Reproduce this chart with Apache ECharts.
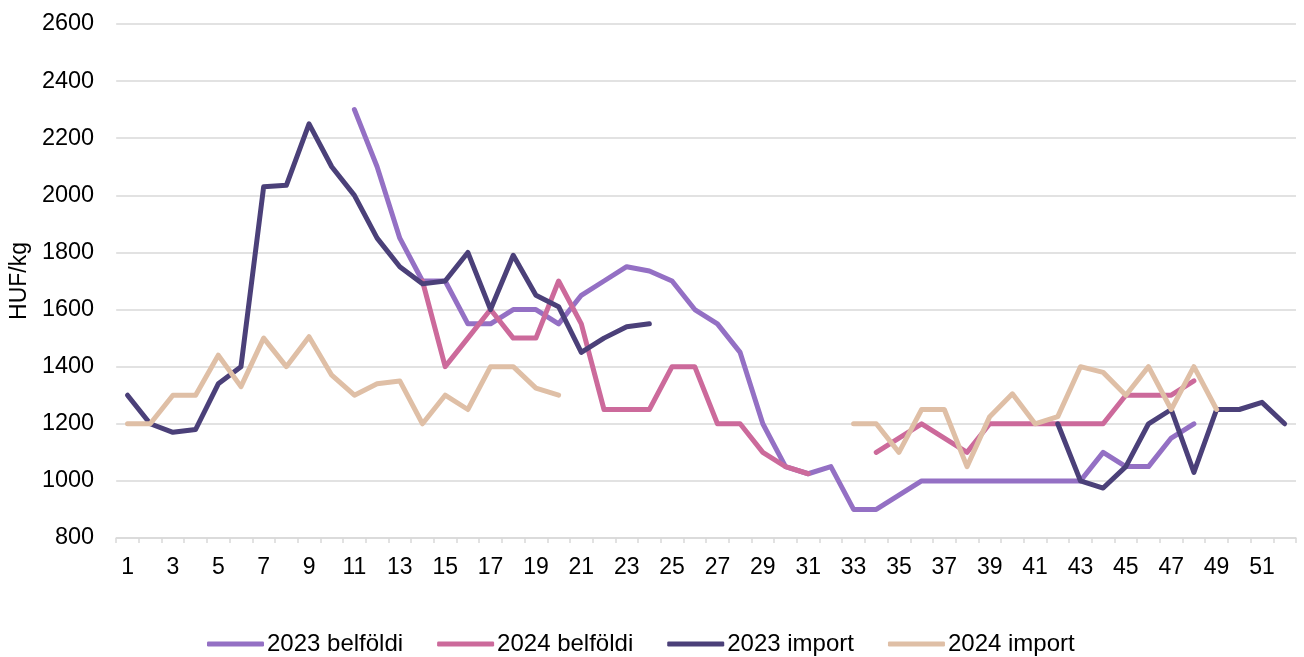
<!DOCTYPE html>
<html>
<head>
<meta charset="utf-8">
<script src="https://cdn.jsdelivr.net/npm/echarts@6/dist/echarts.min.js"></script>
<style>
html,body{margin:0;padding:0;background:#fff;}
#c{width:1304px;height:657px;}
</style>
</head>
<body>
<div id="c"></div>
<script>
var weeks = [];
for (var i = 1; i <= 52; i++) weeks.push(String(i));

var seriesNames = ['2023 belföldi', '2024 belföldi', '2023 import', '2024 import'];

var belfoldi2023 = [null,null,null,null,null,null,null,null,null,null,
  2300,2100,1850,1700,1700,1550,1550,1600,1600,1550,
  1650,1700,1750,1735,1700,1600,1550,1450,1200,1050,
  1025,1050,900,900,950,1000,1000,1000,1000,1000,
  1000,1000,1000,1100,1050,1050,1150,1200,null,null,
  null,null];

var belfoldi2024 = [null,null,null,null,null,null,null,null,null,null,
  null,null,null,1700,1400,1500,1600,1500,1500,1700,
  1550,1250,1250,1250,1400,1400,1200,1200,1100,1050,
  1025,null,null,1100,1150,1200,1150,1100,1200,1200,
  1200,1200,1200,1200,1300,1300,1300,1350,null,null,
  null,null];

var import2023 = [1300,1200,1170,1180,1340,1400,2030,2035,2250,2100,
  2000,1850,1750,1690,1700,1800,1600,1790,1650,1610,
  1450,1500,1540,1550,null,null,null,null,null,null,
  null,null,null,null,null,null,null,null,null,null,
  null,1200,1000,975,1050,1200,1250,1030,1250,1250,
  1275,1200];

var import2024 = [1200,1200,1300,1300,1440,1330,1500,1400,1505,1370,
  1300,1340,1350,1200,1300,1250,1400,1400,1325,1300,
  null,null,null,null,null,null,null,null,null,null,
  null,null,1200,1200,1100,1250,1250,1050,1225,1305,
  1200,1225,1400,1380,1300,1400,1250,1400,1250,null,
  null,null];

var colors = ['#9470c4', '#cc6a9b', '#4b4079', '#dfbfa6'];
var dataSets = [belfoldi2023, belfoldi2024, import2023, import2024];

var font = 'Arial, "Liberation Sans", sans-serif';

var chart = echarts.init(document.getElementById('c'), null, {renderer: 'canvas'});
chart.setOption({
  animation: false,
  backgroundColor: '#ffffff',
  color: colors,
  grid: {left: 115, right: 8, top: 24, bottom: 119, containLabel: false},
  legend: {
    top: 627,
    left: 202,
    itemWidth: 57,
    itemHeight: 5,
    itemGap: 34,
    icon: 'roundRect',
    textStyle: {fontFamily: font, fontSize: 24, color: '#000', padding: [0, 0, 0, -2]},
    data: seriesNames
  },
  xAxis: {
    type: 'category',
    data: weeks,
    boundaryGap: true,
    axisLine: {show: true, lineStyle: {color: '#d9d9d9', width: 1.5}},
    axisTick: {show: true, interval: 0, length: 5, lineStyle: {color: '#d9d9d9', width: 1.5}},
    axisLabel: {interval: 1, fontFamily: font, fontSize: 23, color: '#000', margin: 18},
    splitLine: {show: false}
  },
  yAxis: {
    type: 'value',
    min: 800,
    max: 2600,
    interval: 200,
    name: 'HUF/kg',
    nameLocation: 'middle',
    nameGap: 83,
    nameRotate: 90,
    nameTextStyle: {fontFamily: font, fontSize: 23, color: '#000'},
    axisLine: {show: false},
    axisTick: {show: false},
    axisLabel: {fontFamily: font, fontSize: 23.5, color: '#000', margin: 22,
      formatter: function (v) { return String(v); }},
    splitLine: {lineStyle: {color: '#d9d9d9', width: 1.5}}
  },
  series: seriesNames.map(function (n, k) {
    return {
      name: n,
      type: 'line',
      data: dataSets[k],
      symbol: 'none',
      showSymbol: false,
      connectNulls: false,
      smooth: false,
      lineStyle: {width: 5, color: colors[k], join: 'round', cap: 'round'},
      itemStyle: {color: colors[k]}
    };
  })
});
</script>
</body>
</html>
